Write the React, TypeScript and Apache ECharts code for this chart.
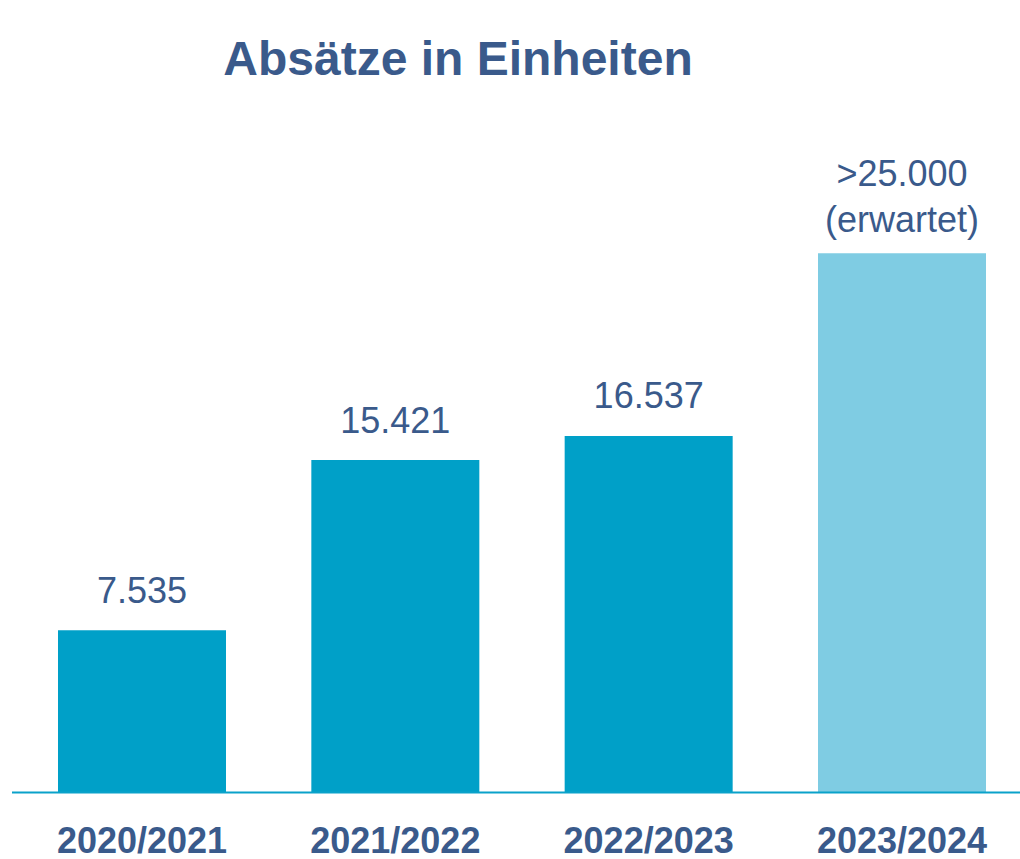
import React, { useEffect, useRef } from "react";
import * as echarts from "echarts";

const titleText = "Absätze in Einheiten";
const categories = ["2020/2021", "2021/2022", "2022/2023", "2023/2024"];
const values = [7535, 15421, 16537, 25000];
const isForecast = [false, false, false, true];
const forecastPrefix = ">";
const forecastNote = "(erwartet)";

const TEXT = "#3A5A8B";
const BAR = "#00A0C8";
const BAR_LIGHT = "#7FCCE3";
const FONT = "'Liberation Sans', Arial, sans-serif";

function fmt(v: number): string {
  const s = Math.round(v).toString();
  return s.replace(/\B(?=(\d{3})+(?!\d))/g, ".");
}

export default function App() {
  const ref = useRef<HTMLDivElement>(null);
  useEffect(() => {
    if (!ref.current) return;
    const chart = echarts.init(ref.current, null, { renderer: "svg" });
    const data = values.map((v, i) => ({
      value: v,
      itemStyle: { color: isForecast[i] ? BAR_LIGHT : BAR },
      label: {
        distance: isForecast[i] ? 11 : 17,
        formatter: isForecast[i]
          ? `${forecastPrefix}${fmt(v)}\n${forecastNote}`
          : fmt(v),
      },
    }));
    chart.setOption({
      animation: false,
      title: {
        text: titleText,
        left: 453,
        textAlign: "center",
        top: 29,
        textStyle: { color: TEXT, fontSize: 48, fontWeight: "bold", fontFamily: FONT },
      },
      grid: { left: 15.33, right: 1.33, top: 145.3, bottom: 66, containLabel: false },
      xAxis: {
        type: "category",
        data: categories,
        axisLine: { show: false },
        axisTick: { show: false },
        axisLabel: {
          margin: 31,
          color: TEXT,
          fontSize: 36,
          lineHeight: 32,
          fontWeight: "bold",
          fontFamily: FONT,
          interval: 0,
        },
      },
      yAxis: {
        type: "value",
        min: 0,
        max: 30000,
        show: false,
        splitLine: { show: false },
      },
      graphic: [
        {
          type: "line",
          shape: { x1: 12, y1: 792.5, x2: 1030, y2: 792.5 },
          style: { stroke: "#0AA2CA", lineWidth: 2 },
          z: 10,
        },
      ],
      series: [
        {
          type: "bar",
          data,
          barWidth: 168,
          label: {
            show: true,
            position: "top",
            color: TEXT,
            fontSize: 36,
            lineHeight: 46,
            fontFamily: FONT,
          },
        },
      ],
    });
    return () => chart.dispose();
  }, []);
  return (
    <div
      style={{
        position: "absolute",
        left: 0,
        top: 0,
        width: 1020,
        height: 859,
        overflow: "hidden",
      }}
    >
      <div ref={ref} style={{ width: 1030, height: 859 }} />
    </div>
  );
}
